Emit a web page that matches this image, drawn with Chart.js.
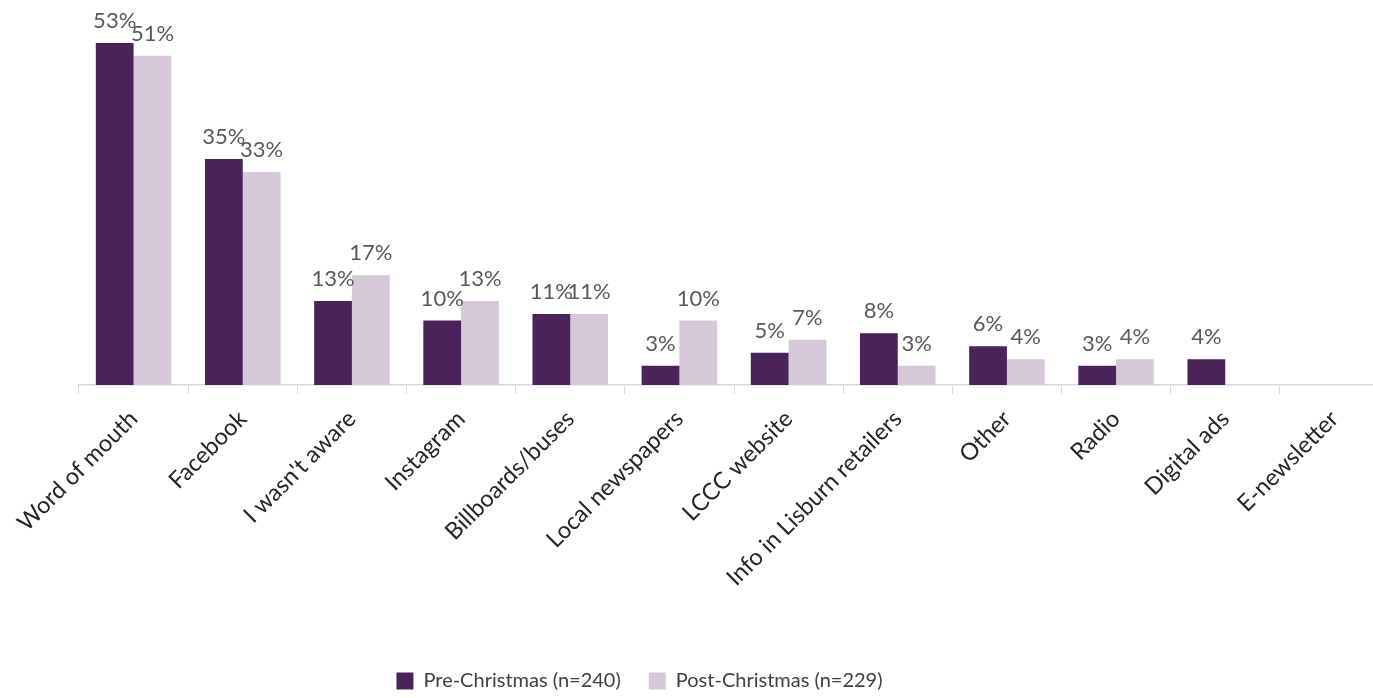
<!DOCTYPE html>
<html>
<head>
<meta charset="utf-8">
<script src="https://cdn.jsdelivr.net/npm/chart.js@4/dist/chart.umd.min.js"></script>
<style>
  html, body { margin: 0; padding: 0; background: #ffffff; overflow: hidden; }
  #wrap { position: absolute; left: 0; top: 0; width: 1400px; height: 698px; }
</style>
</head>
<body>
<div id="wrap"><canvas id="chart"></canvas></div>
<script>
// Where respondents heard about the campaign (% of respondents)
const categories = [
  'Word of mouth', 'Facebook', "I wasn't aware", 'Instagram', 'Billboards/buses',
  'Local newspapers', 'LCCC website', 'Info in Lisburn retailers', 'Other', 'Radio',
  'Digital ads', 'E-newsletter'
];
const seriesNames = ['Pre-Christmas (n=240)', 'Post-Christmas (n=229)'];
const preChristmas  = [53, 35, 13, 10, 11, 3, 5, 8, 6, 3, 4, null];
const postChristmas = [51, 33, 17, 13, 11, 10, 7, 3, 4, 4, null, null];

const PURPLE = '#4a235a';
const LILAC = '#d4c8d9';
const FONT = 'Lato, "Open Sans", "Liberation Sans", sans-serif';

// Percent labels above each bar
const valueLabels = {
  id: 'valueLabels',
  afterDatasetsDraw(chart) {
    const ctx = chart.ctx;
    ctx.save();
    ctx.font = '22px ' + FONT;
    ctx.fillStyle = '#595959';
    ctx.textAlign = 'center';
    ctx.textBaseline = 'bottom';
    chart.data.datasets.forEach((ds, i) => {
      chart.getDatasetMeta(i).data.forEach((bar, j) => {
        const v = ds.data[j];
        if (v === null || v === undefined) return;
        ctx.fillText(v + '%', bar.x, bar.y - 11);
      });
    });
    ctx.restore();
  }
};

// Keep the legend centred under the visible part of the page
const legendPlacement = {
  id: 'legendPlacement',
  afterLayout(chart) {
    const lg = chart.legend;
    if (!lg) return;
    const dx = 639.5 - (lg.left + lg.right) / 2;
    lg.left += dx; lg.right += dx;
    lg.top += 3; lg.bottom += 3;
  }
};

new Chart(document.getElementById('chart'), {
  type: 'bar',
  data: {
    labels: categories,
    datasets: [
      { label: seriesNames[0], data: preChristmas, backgroundColor: PURPLE,
        categoryPercentage: 0.692, barPercentage: 1.0 },
      { label: seriesNames[1], data: postChristmas, backgroundColor: LILAC,
        categoryPercentage: 0.692, barPercentage: 1.0 }
    ]
  },
  options: {
    responsive: true,
    maintainAspectRatio: false,
    animation: false,
    layout: { padding: { left: 79, right: 11, top: 30, bottom: 0 } },
    plugins: {
      legend: {
        position: 'bottom',
        labels: {
          boxWidth: 17, boxHeight: 17, padding: 28,
          color: '#404040',
          font: { family: FONT, size: 20 }
        }
      },
      tooltip: { enabled: false }
    },
    scales: {
      x: {
        grid: { drawOnChartArea: false, drawTicks: true, tickLength: 9, color: '#d9d9d9', offset: true },
        border: { color: '#d9d9d9', width: 1.5 },
        ticks: {
          maxRotation: 45, minRotation: 45, autoSkip: false,
          padding: 11, color: '#262626',
          font: { family: FONT, size: 23.5 }
        },
        afterFit(scale) { scale.height = 255; }
      },
      y: {
        display: false,
        min: 0, max: 55
      }
    }
  },
  plugins: [valueLabels, legendPlacement]
});
</script>
</body>
</html>
